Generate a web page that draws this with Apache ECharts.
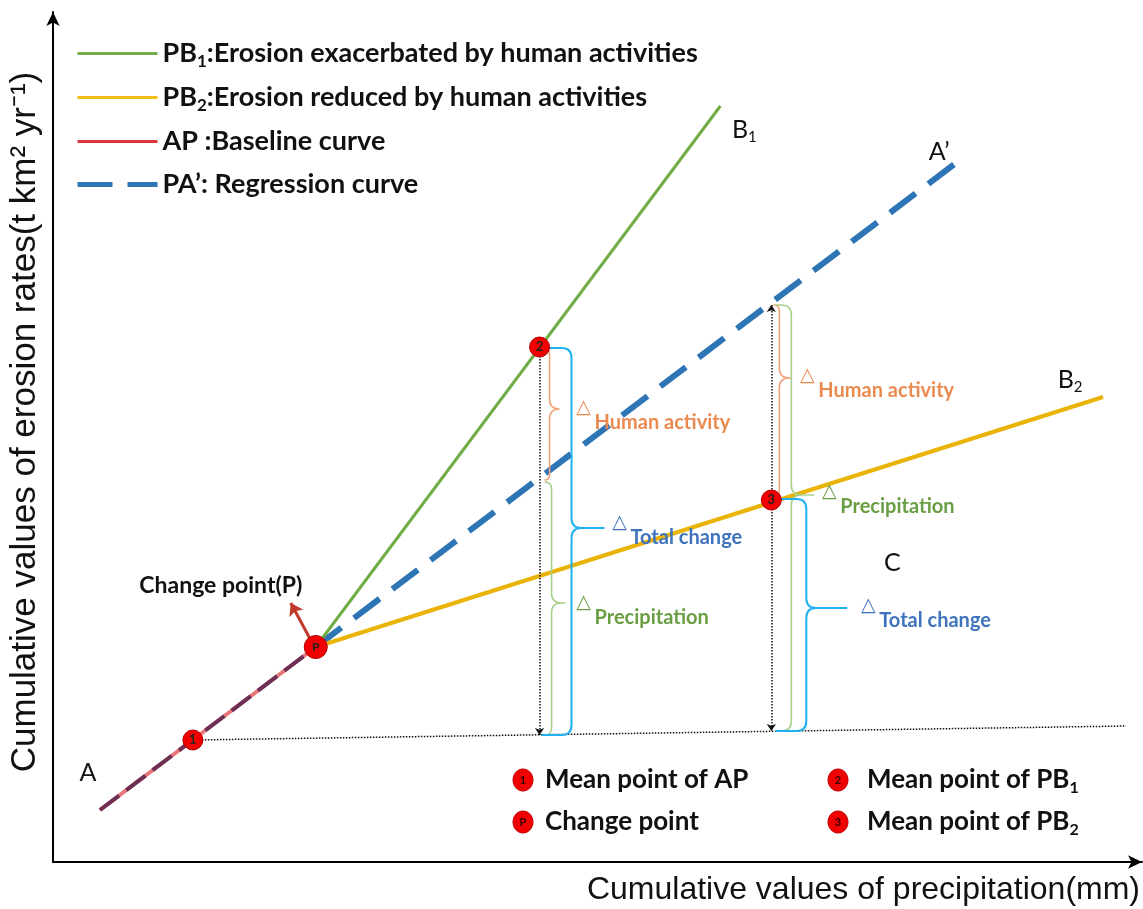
<!DOCTYPE html>
<html><head><meta charset="utf-8">
<script src="https://cdn.jsdelivr.net/npm/echarts@6/dist/echarts.min.js"></script>
<style>html,body{margin:0;padding:0;background:#fff}#c{width:1143px;height:909px}</style>
</head><body><div id="c"></div>
<script>
// ---- Diagram data (x: cumulative precipitation, y: cumulative erosion; arbitrary units) ----
const baselineAP   = [[47, 52], [263, 215]];
const regressionPA = [[263, 215], [905, 700]];
const linePB1      = [[263, 215], [668, 756]];
const linePB2      = [[263, 215], [1051, 465]];
const meanPoints   = [[140, 122, '1'], [487, 515, '2'], [719, 362, '3']];
const changePoint  = [[263, 215, 'P']];
const refLine      = [[140, 122], [1074, 136]];
const dropLeft     = [[487, 512], [487, 127]];
const dropRight    = [[719, 557], [719, 131]];
const changeArrow  = [[259, 220], [238, 259]];
// braces: [x, yTop, yBottom, yTip, xTip, xEnd]
const braceHuman   = [[497, 513, 382, 453, 507, 492], [727, 557, 366, 484, 739, 721]];
const bracePrecip  = [[499, 380, 127, 259, 513, 492], [739, 557, 131, 367, 762, 723]];
const braceTotal   = [[519, 514, 127, 334, 552, 489], [754, 363, 131, 254, 795, 723]];
// delta label anchors
const labelHuman   = [[531, 454], [755, 486]];
const labelPrecip  = [[531, 259], [777, 370]];
const labelTotal   = [[567, 339], [816, 256]];
const deltaTexts   = ['Human activity', 'Precipitation', 'Total change'];
// point names
const pointNames   = [[35, 89, 'A'], [692, 732, 'B{s|1}'], [887, 710, 'A’'], [1018, 482, 'B{s|2}'], [840, 299, 'C']];
const changeLabel  = [[168, 276, 'Change point(P)']];
// legend / key texts
const legendTexts = {
  PB1: 'PB{s|1}:Erosion exacerbated by human activities',
  PB2: 'PB{s|2}:Erosion reduced by human activities',
  AP: 'AP :Baseline curve',
  PA: 'PA’: Regression curve'
};
const keyItems = [['1', 'Mean point of AP'], ['P', 'Change point'], ['2', 'Mean point of PB{s|1}'], ['3', 'Mean point of PB{s|2}']];
const xTitle = 'Cumulative values of precipitation(mm)';
const yTitle = 'Cumulative values of erosion rates(t km² yr⁻¹)';

const FONT = 'Lato, "Open Sans", sans-serif';
const C_GREEN = '#70ad47', C_YELLOW = '#eab308', C_RED = '#d9363e', C_BLUE = '#2e75b6';

const chart = echarts.init(document.getElementById('c'));

function braceRenderer(color, width) {
  return function (params, api) {
    const x = api.value(0), yTop = api.value(1), yBot = api.value(2), yTip = api.value(3), xTip = api.value(4), xEnd = api.value(5);
    const t = api.coord([x, yTop]), b = api.coord([x, yBot]), m = api.coord([xTip, yTip]), e = api.coord([xEnd, yTop]);
    const px = t[0], top = t[1], bot = b[1], tip = m[1], tipX = m[0], endX = e[0];
    const r = Math.max(3, Math.min(10, px - endX));
    const rt = Math.min(10, tipX - px);
    const d = [
      'M', endX, top, 'L', px - r, top, 'Q', px, top, px, top + r,
      'L', px, tip - rt, 'Q', px, tip, px + rt, tip, 'L', tipX, tip,
      'M', px + rt, tip, 'Q', px, tip, px, tip + rt,
      'L', px, bot - r, 'Q', px, bot, px - r, bot, 'L', endX, bot
    ].join(' ');
    return { type: 'path', shape: { pathData: d }, style: { fill: 'none', stroke: color, lineWidth: width } };
  };
}

function deltaRenderer(color, text) {
  return function (params, api) {
    const p = api.coord([api.value(0), api.value(1)]);
    return {
      type: 'group', children: [
        { type: 'text', x: p[0], y: p[1], style: { text: '△', fill: color, fontSize: 19, fontFamily: 'DejaVu Sans', align: 'center', verticalAlign: 'middle' } },
        { type: 'text', x: p[0] + 11, y: p[1] + 15, style: { text: text, fill: color, fontSize: 20, fontWeight: 'bold', fontFamily: FONT, align: 'left', verticalAlign: 'middle' } }
      ]
    };
  };
}

const pointNamesText = pointNames.map(d => d[2]);
function nameRenderer(size, weight, texts) {
  return function (params, api) {
    const p = api.coord([api.value(0), api.value(1)]);
    return {
      type: 'text', x: p[0], y: p[1],
      style: {
        text: texts[params.dataIndex],
        fill: '#111', fontSize: size, fontWeight: weight, fontFamily: FONT, align: 'center', verticalAlign: 'middle',
        rich: { s: { fontSize: 15, fontFamily: FONT, fill: '#111', padding: [14, 0, 0, 0] } }
      }
    };
  };
}

const customBase = { type: 'custom', coordinateSystem: 'cartesian2d', encode: { x: 0, y: 1 }, silent: true, clip: false };

const keyLeft = [545, 545, 867, 867], keyTop = [780, 822, 780, 822];
const keyDotX = [523, 523, 838, 838];
const graphic = [];
keyItems.forEach((k, i) => {
  graphic.push({ type: 'ellipse', shape: { cx: keyDotX[i], cy: keyTop[i], rx: 10, ry: 11 }, style: { fill: '#f00000', stroke: '#c00000', lineWidth: 1 } });
  graphic.push({ type: 'text', x: keyDotX[i], y: keyTop[i], style: { text: k[0], fill: '#330000', font: 'bold 11px ' + FONT, align: 'center', verticalAlign: 'middle' } });
  graphic.push({ type: 'text', x: keyLeft[i], y: keyTop[i], style: { text: k[1], fill: '#111', fontSize: 26, fontWeight: 'bold', fontFamily: FONT, align: 'left', verticalAlign: 'middle',
    rich: { s: { fontSize: 16, fontWeight: 'bold', fontFamily: FONT, fill: '#111', padding: [15, 0, 0, 0] } } } });
});

const hideSym = { color: 'transparent', borderWidth: 0, borderColor: 'transparent' };
const option = {
  animation: false,
  backgroundColor: '#fff',
  grid: { left: 53, right: 0, top: 12, bottom: 47 },
  xAxis: {
    type: 'value', min: 0, max: 1090,
    axisLine: { show: true, symbol: ['none', 'arrow'], symbolSize: [10, 14], lineStyle: { color: '#000', width: 2 } },
    axisTick: { show: false }, axisLabel: { show: false }, splitLine: { show: false },
    name: xTitle, nameLocation: 'end', nameGap: -2,
    nameTextStyle: { fontFamily: '"Liberation Sans", Arial, sans-serif', fontSize: 32, color: '#111', align: 'right', verticalAlign: 'top', padding: [12, 0, 0, 0] }
  },
  yAxis: {
    type: 'value', min: 0, max: 850,
    axisLine: { show: true, symbol: ['none', 'arrow'], symbolSize: [10, 14], lineStyle: { color: '#000', width: 2 } },
    axisTick: { show: false }, axisLabel: { show: false }, splitLine: { show: false },
    name: yTitle, nameLocation: 'middle', nameGap: 10, nameRotate: 90,
    nameTextStyle: { fontFamily: '"Liberation Sans", Arial, sans-serif', fontSize: 35, color: '#111', padding: [0, 0, 0, 30] }
  },
  legend: {
    orient: 'vertical', left: 75, top: 38, padding: 0, itemWidth: 80, itemHeight: 12, itemGap: 12,
    selectedMode: false,
    itemStyle: hideSym,
    textStyle: { fontFamily: FONT, fontWeight: 'bold', fontSize: 27, color: '#111', lineHeight: 31,
      rich: { s: { fontSize: 17, fontWeight: 'bold', fontFamily: FONT, color: '#111', padding: [16, 0, 0, 0] } } },
    formatter: n => legendTexts[n],
    data: [
      { name: 'PB1', itemStyle: hideSym, lineStyle: { color: C_GREEN, width: 3 } },
      { name: 'PB2', itemStyle: hideSym, lineStyle: { color: '#f2bd17', width: 3 } },
      { name: 'AP', itemStyle: hideSym, lineStyle: { color: C_RED, width: 3 } },
      { name: 'PA', itemStyle: hideSym, lineStyle: { color: C_BLUE, width: 5, type: [35, 15] } }
    ]
  },
  graphic: graphic,
  series: [
    { name: 'AP', type: 'line', data: baselineAP, symbol: 'none', color: '#e8777a', lineStyle: { color: '#e8777a', width: 4 }, z: 2, silent: true },
    { name: 'APdash', type: 'line', data: baselineAP, symbol: 'none', lineStyle: { color: '#6e2f55', width: 4, type: [24, 9] }, z: 3, silent: true },
    { name: 'PA', type: 'line', data: regressionPA, symbol: 'none', color: C_BLUE, lineStyle: { color: C_BLUE, width: 6, type: [32, 16] }, z: 3, silent: true },
    { name: 'PB1', type: 'line', data: linePB1, symbol: 'none', color: C_GREEN, lineStyle: { color: C_GREEN, width: 3 }, z: 3, silent: true },
    { name: 'PB2', type: 'line', data: linePB2, symbol: 'none', color: C_YELLOW, lineStyle: { color: C_YELLOW, width: 4 }, z: 3, silent: true },
    { type: 'lines', coordinateSystem: 'cartesian2d', silent: true, z: 4, lineStyle: { color: '#111', width: 1.5, type: 'dotted', opacity: 1 }, data: [{ coords: refLine }] },
    { type: 'lines', coordinateSystem: 'cartesian2d', silent: true, z: 4, symbol: ['none', 'arrow'], symbolSize: 7, lineStyle: { color: '#111', width: 1.5, type: 'dotted', opacity: 1 }, data: [{ coords: dropLeft }] },
    { type: 'lines', coordinateSystem: 'cartesian2d', silent: true, z: 4, symbol: ['arrow', 'arrow'], symbolSize: 7, lineStyle: { color: '#111', width: 1.5, type: 'dotted', opacity: 1 }, data: [{ coords: dropRight }] },
    { type: 'lines', coordinateSystem: 'cartesian2d', silent: true, z: 4, symbol: ['none', 'arrow'], symbolSize: 12, lineStyle: { color: '#c0392b', width: 3, opacity: 1 }, data: [{ coords: changeArrow }] },
    Object.assign({}, customBase, { name: 'braceHuman', z: 5, data: braceHuman, renderItem: braceRenderer('#f0a47a', 1.6) }),
    Object.assign({}, customBase, { name: 'bracePrecip', z: 5, data: bracePrecip, renderItem: braceRenderer('#a9d18e', 1.6) }),
    Object.assign({}, customBase, { name: 'braceTotal', z: 5, data: braceTotal, renderItem: braceRenderer('#1db2ef', 2) }),
    Object.assign({}, customBase, { name: 'labHuman', z: 6, data: labelHuman, renderItem: deltaRenderer('#ea8a50', deltaTexts[0]) }),
    Object.assign({}, customBase, { name: 'labPrecip', z: 6, data: labelPrecip, renderItem: deltaRenderer('#6a9e42', deltaTexts[1]) }),
    Object.assign({}, customBase, { name: 'labTotal', z: 6, data: labelTotal, renderItem: deltaRenderer('#3f73bd', deltaTexts[2]) }),
    Object.assign({}, customBase, { name: 'names', z: 6, data: pointNames, renderItem: nameRenderer(25, 'normal', pointNamesText) }),
    Object.assign({}, customBase, { name: 'changeLabel', z: 6, data: changeLabel, renderItem: nameRenderer(23, 'bold', changeLabel.map(d => d[2])) }),
    { type: 'scatter', data: meanPoints, symbol: 'circle', symbolSize: 20, z: 8, silent: true,
      itemStyle: { color: '#f00000', borderColor: '#b00000', borderWidth: 1, opacity: 1 },
      label: { show: true, position: 'inside', formatter: p => p.value[2], color: '#222', fontSize: 13, fontWeight: 'bold', fontFamily: FONT } },
    { type: 'scatter', data: changePoint, symbol: 'circle', symbolSize: 23, z: 8, silent: true,
      itemStyle: { color: '#f00000', borderColor: '#b00000', borderWidth: 1, opacity: 1 },
      label: { show: true, position: 'inside', formatter: p => p.value[2], color: '#222', fontSize: 12, fontWeight: 'bold', fontFamily: FONT } }
  ]
};
chart.setOption(option);
</script>
</body></html>
